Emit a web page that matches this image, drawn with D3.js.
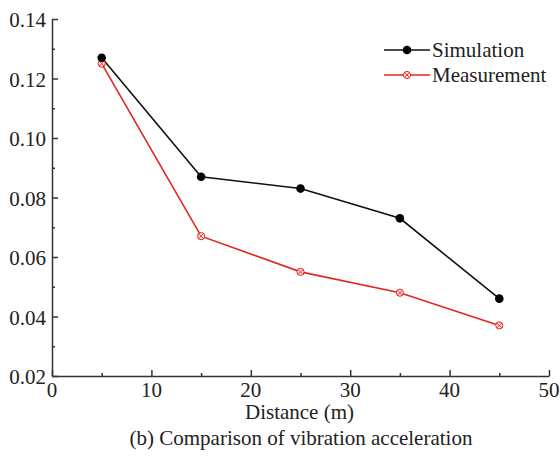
<!DOCTYPE html>
<html>
<head>
<meta charset="utf-8">
<title>Comparison of vibration acceleration</title>
<script src="https://d3js.org/d3.v7.min.js"></script>
<style>
  body { margin: 0; background: #fff; }
  svg text { font-family: "Liberation Serif", "Times New Roman", serif; fill: #222; }
</style>
</head>
<body>
<script>
// data
var distance = [5, 15, 25, 35, 45];
var simulation = [0.127, 0.087, 0.083, 0.073, 0.046];
var measurement = [0.125, 0.067, 0.055, 0.048, 0.037];
var xTicks = [0, 10, 20, 30, 40, 50];
var yTicks = [0.02, 0.04, 0.06, 0.08, 0.10, 0.12, 0.14];

var W = 560, H = 459;
var m = { left: 52, right: 549, top: 19, bottom: 376 };

var svg = d3.select("body").append("svg")
    .attr("width", W)
    .attr("height", H);

var x = d3.scaleLinear().domain([0, 50]).range([m.left, m.right]);
var y = d3.scaleLinear().domain([0.02, 0.14]).range([m.bottom, m.top]);

// axes, ticks point inward
var xAxis = d3.axisTop(x).tickValues(d3.range(0, 51, 5)).tickSizeOuter(0).tickFormat("");
var yAxis = d3.axisRight(y).tickValues(d3.range(0.02, 0.1401, 0.01)).tickSizeOuter(0).tickFormat("");

var gx = svg.append("g").attr("transform", "translate(0," + m.bottom + ")").call(xAxis);
var gy = svg.append("g").attr("transform", "translate(" + m.left + ",0)").call(yAxis);

[gx, gy].forEach(function(g) {
  g.select(".domain").attr("stroke", "#333").attr("stroke-width", 1.5);
  g.selectAll(".tick line").attr("stroke", "#333").attr("stroke-width", 1.5);
  g.selectAll(".tick text").remove();
});
gx.selectAll(".tick line").attr("y2", function(d, i) { return i % 2 === 0 ? -6 : -3; });
gy.selectAll(".tick line").attr("x2", function(d, i) { return i % 2 === 0 ? 6 : 3; });

// tick labels
svg.append("g").selectAll("text").data(xTicks).enter().append("text")
    .attr("x", function(d) { return x(d); })
    .attr("y", m.bottom + 21)
    .attr("text-anchor", "middle")
    .attr("font-size", 21)
    .text(function(d) { return d; });

svg.append("g").selectAll("text").data(yTicks).enter().append("text")
    .attr("x", m.left - 6)
    .attr("y", function(d) { return y(d) + 8; })
    .attr("text-anchor", "end")
    .attr("font-size", 21)
    .text(function(d) { return d3.format(".2f")(d); });

// axis title and caption
svg.append("text")
    .attr("x", x(25) - 1).attr("y", 419)
    .attr("text-anchor", "middle").attr("font-size", 21)
    .text("Distance (m)");
svg.append("text")
    .attr("x", 301).attr("y", 445)
    .attr("text-anchor", "middle").attr("font-size", 21)
    .text("(b) Comparison of vibration acceleration");

var red = "#e3261f";

var line = d3.line()
    .x(function(d) { return x(d[0]); })
    .y(function(d) { return y(d[1]); });

var simPts = d3.zip(distance, simulation);
var meaPts = d3.zip(distance, measurement);

svg.append("path").datum(meaPts)
    .attr("d", line).attr("fill", "none")
    .attr("stroke", red).attr("stroke-width", 1.6);
svg.append("path").datum(simPts)
    .attr("d", line).attr("fill", "none")
    .attr("stroke", "#111").attr("stroke-width", 1.6);

function crossMarker(g, cx, cy) {
  g.append("circle").attr("cx", cx).attr("cy", cy).attr("r", 3.6)
      .attr("fill", "#fbe3e3").attr("stroke", red).attr("stroke-width", 1);
  g.append("path")
      .attr("d", "M" + (cx - 2.4) + "," + (cy - 2.4) + "L" + (cx + 2.4) + "," + (cy + 2.4) +
                 "M" + (cx - 2.4) + "," + (cy + 2.4) + "L" + (cx + 2.4) + "," + (cy - 2.4))
      .attr("stroke", red).attr("stroke-width", 0.9);
}

var mg = svg.append("g");
meaPts.forEach(function(p) { crossMarker(mg, x(p[0]), y(p[1])); });

svg.append("g").selectAll("circle").data(simPts).enter().append("circle")
    .attr("cx", function(d) { return x(d[0]); })
    .attr("cy", function(d) { return y(d[1]); })
    .attr("r", 4.3)
    .attr("fill", "#000");

// legend
var lg = svg.append("g");
lg.append("line").attr("x1", 384).attr("x2", 430).attr("y1", 50).attr("y2", 50)
    .attr("stroke", "#111").attr("stroke-width", 1.6);
lg.append("circle").attr("cx", 407).attr("cy", 50).attr("r", 4.3).attr("fill", "#000");
lg.append("text").attr("x", 432).attr("y", 57).attr("font-size", 21).text("Simulation");
lg.append("line").attr("x1", 384).attr("x2", 430).attr("y1", 75).attr("y2", 75)
    .attr("stroke", red).attr("stroke-width", 1.6);
crossMarker(lg, 407, 75);
lg.append("text").attr("x", 432).attr("y", 82).attr("font-size", 21).text("Measurement");
</script>
</body>
</html>
